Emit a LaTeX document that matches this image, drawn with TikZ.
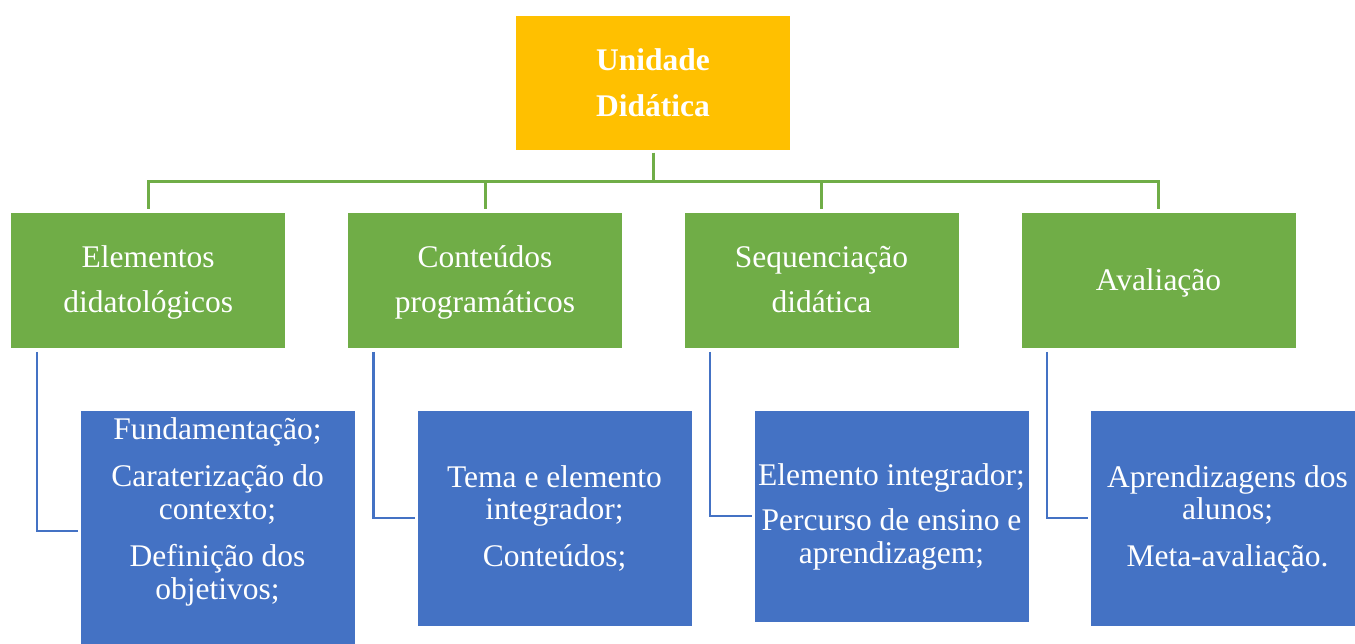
\documentclass[tikz,border=0pt]{standalone}
\usepackage{fontspec}
\setmainfont{Liberation Serif}
\definecolor{cOrange}{HTML}{FFC000}
\definecolor{cGreen}{HTML}{70AD47}
\definecolor{cBlue}{HTML}{4472C4}
\newcommand\ls{\rule[-9.5pt]{0pt}{32.5pt}}
\tikzset{
  box/.style={rectangle, draw=white, line width=0.8pt, inner sep=0pt, outer sep=0pt, minimum width=275pt},
  topbox/.style={box, fill=cOrange, minimum height=135pt},
  greenbox/.style={box, fill=cGreen, minimum height=136pt},
  bluebox/.style={box, fill=cBlue},
  txt/.style={text=white, align=center, inner sep=0pt, anchor=north, font=\fontsize{31.5}{32.5}\selectfont},
  gline/.style={draw=cGreen, line width=3pt, shorten <=3pt, shorten >=3pt},
  bline/.style={draw=cBlue, line width=2.8pt, shorten <=4pt, shorten >=2pt}
}
\begin{document}
\begin{tikzpicture}[x=1pt,y=-1pt]
\path[use as bounding box] (0,0) rectangle (1355,644);
\clip (0,0) rectangle (1355,644);
% boxes
\node[topbox] (top) at (653,82.5) {};
\node[greenbox] (g1) at (148.2,280) {};
\node[greenbox] (g2) at (485,280) {};
\node[greenbox] (g3) at (821.5,280) {};
\node[greenbox] (g4) at (1158.5,280) {};
\node[bluebox, minimum height=242pt] (b1) at (217.5,531) {};
\node[bluebox, minimum height=216pt] (b2) at (554.5,518) {};
\node[bluebox, minimum height=212pt] (b3) at (891.5,516) {};
\node[bluebox, minimum height=216pt] (b4) at (1227.5,518) {};
% texts
\node[txt, font=\fontsize{31.5}{32.5}\selectfont\bfseries] (t0) at (653,47) {\ls Unidade\\[13.5pt]\ls Didática};
\node[txt] (tg1) at (148.2,244) {\ls Elementos\\[12.5pt]\ls didatológicos};
\node[txt] (tg2) at (485,244) {\ls Conteúdos\\[12.5pt]\ls programáticos};
\node[txt] (tg3) at (821.5,244) {\ls Sequenciação\\[12.5pt]\ls didática};
\node[txt] (tg4) at (1158.5,267) {\ls Avaliação};
\node[txt] (tb1) at (217.5,416) {\ls Fundamentação;\\[15pt]\ls Caraterização do\\\ls contexto;\\[15pt]\ls Definição dos\\\ls objetivos;};
\node[txt] (tb2) at (554.5,464) {\ls Tema e elemento\\\ls integrador;\\[14.5pt]\ls Conteúdos;};
\node[txt] (tb3) at (891.5,462) {\ls Elemento integrador;\\[13pt]\ls Percurso de ensino e\\\ls aprendizagem;};
\node[txt] (tb4) at (1227.5,464) {\ls Aprendizagens dos\\\ls alunos;\\[14.5pt]\ls Meta-avaliação.};
% green connectors
\foreach \g in {g1,g2,g3,g4}{
  \draw[gline] (top.south) -- ++(0,31.7) -| (\g.north);
}
% blue connectors
\draw[bline] ([xshift=26.3pt]g1.south west) |- (b1.west);
\draw[bline] ([xshift=26pt]g2.south west) |- (b2.west);
\draw[bline] ([xshift=26pt]g3.south west) |- (b3.west);
\draw[bline] ([xshift=26pt]g4.south west) |- (b4.west);
\end{tikzpicture}
\end{document}
